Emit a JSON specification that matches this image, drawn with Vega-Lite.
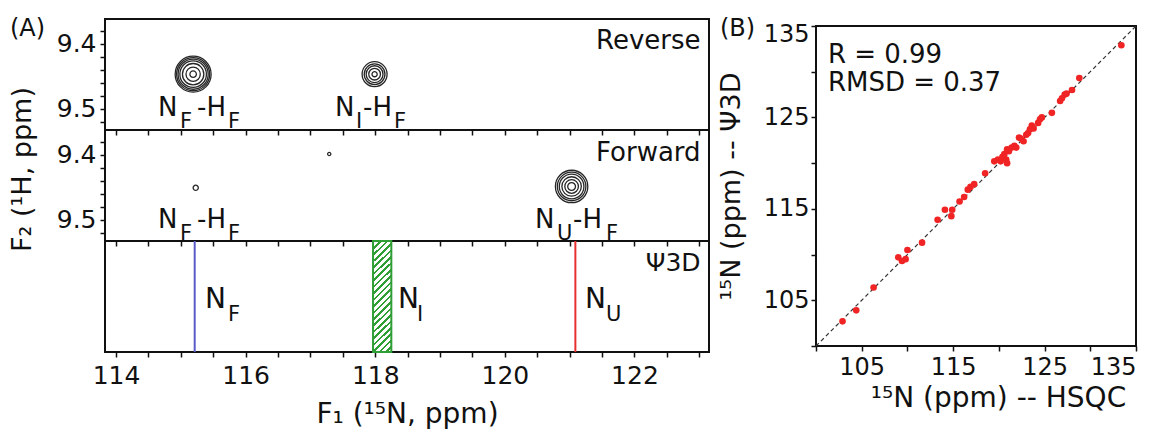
{
  "$schema": "https://vega.github.io/schema/vega-lite/v6.json",
  "background": "white",
  "padding": {"left": 7, "top": 16, "right": 4, "bottom": 0},
  "datasets": {
    "contours": [
      {"panel": "Reverse", "n15": 115.19, "h1": 9.447, "width": 0.555},
      {"panel": "Reverse", "n15": 115.19, "h1": 9.447, "width": 0.51},
      {"panel": "Reverse", "n15": 115.19, "h1": 9.447, "width": 0.465},
      {"panel": "Reverse", "n15": 115.19, "h1": 9.447, "width": 0.41},
      {"panel": "Reverse", "n15": 115.19, "h1": 9.447, "width": 0.33},
      {"panel": "Reverse", "n15": 115.19, "h1": 9.447, "width": 0.22},
      {"panel": "Reverse", "n15": 115.19, "h1": 9.447, "width": 0.1},
      {"panel": "Reverse", "n15": 117.99, "h1": 9.447, "width": 0.385},
      {"panel": "Reverse", "n15": 117.99, "h1": 9.447, "width": 0.32},
      {"panel": "Reverse", "n15": 117.99, "h1": 9.447, "width": 0.26},
      {"panel": "Reverse", "n15": 117.99, "h1": 9.447, "width": 0.18},
      {"panel": "Reverse", "n15": 117.99, "h1": 9.447, "width": 0.08},
      {"panel": "Forward", "n15": 115.23, "h1": 9.451, "width": 0.08},
      {"panel": "Forward", "n15": 117.29, "h1": 9.399, "width": 0.05},
      {"panel": "Forward", "n15": 121.03, "h1": 9.449, "width": 0.5},
      {"panel": "Forward", "n15": 121.03, "h1": 9.449, "width": 0.44},
      {"panel": "Forward", "n15": 121.03, "h1": 9.449, "width": 0.38},
      {"panel": "Forward", "n15": 121.03, "h1": 9.449, "width": 0.3},
      {"panel": "Forward", "n15": 121.03, "h1": 9.449, "width": 0.21},
      {"panel": "Forward", "n15": 121.03, "h1": 9.449, "width": 0.12}
    ],
    "labels": [
      {"panel": "Reverse", "kind": "main", "n15": 114.648, "h1": 9.512, "txt": "N"},
      {"panel": "Reverse", "kind": "sub", "n15": 114.988, "h1": 9.512, "txt": "F"},
      {"panel": "Reverse", "kind": "main", "n15": 115.25, "h1": 9.512, "txt": "-H"},
      {"panel": "Reverse", "kind": "sub", "n15": 115.728, "h1": 9.512, "txt": "F"},
      {"panel": "Reverse", "kind": "main", "n15": 117.38, "h1": 9.512, "txt": "N"},
      {"panel": "Reverse", "kind": "sub", "n15": 117.704, "h1": 9.512, "txt": "I"},
      {"panel": "Reverse", "kind": "main", "n15": 117.812, "h1": 9.512, "txt": "-H"},
      {"panel": "Reverse", "kind": "sub", "n15": 118.29, "h1": 9.512, "txt": "F"},
      {"panel": "Reverse", "kind": "tag", "n15": 123.02, "h1": 9.408, "txt": "Reverse"},
      {"panel": "Reverse", "kind": "panel", "n15": 112.364, "h1": 9.3882, "txt": "(A)"},
      {"panel": "Forward", "kind": "main", "n15": 114.648, "h1": 9.513, "txt": "N"},
      {"panel": "Forward", "kind": "sub", "n15": 114.988, "h1": 9.513, "txt": "F"},
      {"panel": "Forward", "kind": "main", "n15": 115.25, "h1": 9.513, "txt": "-H"},
      {"panel": "Forward", "kind": "sub", "n15": 115.728, "h1": 9.513, "txt": "F"},
      {"panel": "Forward", "kind": "main", "n15": 120.466, "h1": 9.513, "txt": "N"},
      {"panel": "Forward", "kind": "sub", "n15": 120.806, "h1": 9.513, "txt": "U"},
      {"panel": "Forward", "kind": "main", "n15": 121.052, "h1": 9.513, "txt": "-H"},
      {"panel": "Forward", "kind": "sub", "n15": 121.562, "h1": 9.513, "txt": "F"},
      {"panel": "Forward", "kind": "tag", "n15": 123.02, "h1": 9.41, "txt": "Forward"},
      {"panel": "Psi", "kind": "main", "n15": 115.373, "pos": 0.399, "txt": "N"},
      {"panel": "Psi", "kind": "sub", "n15": 115.728, "pos": 0.399, "txt": "F"},
      {"panel": "Psi", "kind": "main", "n15": 118.352, "pos": 0.399, "txt": "N"},
      {"panel": "Psi", "kind": "sub", "n15": 118.645, "pos": 0.399, "txt": "I"},
      {"panel": "Psi", "kind": "main", "n15": 121.238, "pos": 0.399, "txt": "N"},
      {"panel": "Psi", "kind": "sub", "n15": 121.562, "pos": 0.399, "txt": "U"},
      {"panel": "Psi", "kind": "tag", "n15": 123.02, "pos": 0.73, "txt": "Ψ3D"}
    ],
    "lines": [
      {"species": "F", "n15": 115.214},
      {"species": "U", "n15": 121.088}
    ],
    "bands": [
      {"species": "I", "n15": 117.966, "n15_hi": 118.248}
    ],
    "scatter": [
      {"hsqc": 102.9, "psi": 102.7}, {"hsqc": 104.4, "psi": 103.9}, {"hsqc": 106.3, "psi": 106.4},
      {"hsqc": 109.0, "psi": 109.7}, {"hsqc": 109.4, "psi": 109.3}, {"hsqc": 109.8, "psi": 109.5},
      {"hsqc": 110.0, "psi": 110.5}, {"hsqc": 111.6, "psi": 111.3}, {"hsqc": 113.3, "psi": 113.8},
      {"hsqc": 114.1, "psi": 114.9}, {"hsqc": 114.8, "psi": 114.2}, {"hsqc": 114.9, "psi": 114.9},
      {"hsqc": 115.7, "psi": 115.8}, {"hsqc": 116.2, "psi": 116.3}, {"hsqc": 116.6, "psi": 117.1},
      {"hsqc": 116.9, "psi": 117.4}, {"hsqc": 117.3, "psi": 117.7}, {"hsqc": 118.5, "psi": 118.9},
      {"hsqc": 119.5, "psi": 120.2}, {"hsqc": 119.9, "psi": 120.4}, {"hsqc": 120.2, "psi": 120.2},
      {"hsqc": 120.4, "psi": 120.7}, {"hsqc": 120.8, "psi": 120.4}, {"hsqc": 120.9, "psi": 120.0},
      {"hsqc": 120.6, "psi": 121.0}, {"hsqc": 120.9, "psi": 121.5}, {"hsqc": 121.4, "psi": 121.7},
      {"hsqc": 121.7, "psi": 121.9}, {"hsqc": 121.9, "psi": 121.7}, {"hsqc": 122.2, "psi": 122.8},
      {"hsqc": 122.7, "psi": 122.4}, {"hsqc": 123.0, "psi": 123.1}, {"hsqc": 123.2, "psi": 123.3},
      {"hsqc": 123.6, "psi": 124.1}, {"hsqc": 123.8, "psi": 123.8}, {"hsqc": 124.3, "psi": 124.4},
      {"hsqc": 124.5, "psi": 124.8}, {"hsqc": 124.7, "psi": 125.0}, {"hsqc": 125.8, "psi": 125.5},
      {"hsqc": 126.7, "psi": 126.8}, {"hsqc": 126.9, "psi": 127.1}, {"hsqc": 127.2, "psi": 127.5},
      {"hsqc": 127.4, "psi": 127.6}, {"hsqc": 128.0, "psi": 128.0}, {"hsqc": 128.8, "psi": 129.3},
      {"hsqc": 133.4, "psi": 132.9}, {"hsqc": 121.1, "psi": 121.3}, {"hsqc": 122.4, "psi": 122.7},
      {"hsqc": 123.4, "psi": 123.7}
    ],
    "diag": [{"hsqc": 100, "psi": 100, "hsqc2": 135, "psi2": 135}],
    "stats": [
      {"kind": "stat", "hsqc": 101.3, "psi": 130.95, "txt": "R = 0.99"},
      {"kind": "stat", "hsqc": 101.3, "psi": 127.9, "txt": "RMSD = 0.37"},
      {"kind": "panel", "hsqc": 89.5, "psi": 133.9, "txt": "(B)"}
    ]
  },
  "hconcat": [
    {
      "spacing": 0,
      "bounds": "flush",
      "vconcat": [
        {
          "width": 604,
          "height": 111,
          "encoding": {
            "x": {"field": "n15", "type": "quantitative",
              "scale": {"domain": [113.83, 123.15], "nice": false, "zero": false},
              "axis": {"values": [114,114.5,115,115.5,116,116.5,117,117.5,118,118.5,119,119.5,120,120.5,121,121.5,122,122.5,123], "labels": false, "title": null}},
            "y": {"field": "h1", "type": "quantitative",
              "scale": {"domain": [9.362, 9.533], "reverse": true, "nice": false, "zero": false},
              "axis": {"values": [9.38,9.4,9.42,9.44,9.46,9.48,9.5,9.52],
                "labelExpr": "datum.value === 9.4 || datum.value === 9.5 ? format(datum.value, '.1f') : ''",
                "title": "F₂ (¹H, ppm)", "titleY": 150, "titlePadding": 20, "titleFontSize": 27}}
          },
          "layer": [
            {"data": {"name": "contours"}, "transform": [{"filter": "datum.panel === 'Reverse'"}],
             "mark": {"type": "point", "shape": "circle", "filled": false, "stroke": "#262626", "strokeWidth": 1.3, "opacity": 1},
             "encoding": {"size": {"field": "width", "type": "quantitative", "scale": {"type": "pow", "exponent": 2, "domain": [0, 1], "range": [0, 4199]}, "legend": null}}},
            {"data": {"name": "labels"}, "transform": [{"filter": "datum.panel === 'Reverse' && datum.kind === 'main'"}],
             "mark": {"type": "text", "align": "left", "baseline": "alphabetic", "fontSize": 26, "color": "#111"},
             "encoding": {"text": {"field": "txt"}}},
            {"data": {"name": "labels"}, "transform": [{"filter": "datum.panel === 'Reverse' && datum.kind === 'sub'"}],
             "mark": {"type": "text", "align": "left", "baseline": "alphabetic", "fontSize": 21, "dy": 12, "color": "#111"},
             "encoding": {"text": {"field": "txt"}}},
            {"data": {"name": "labels"}, "transform": [{"filter": "datum.panel === 'Reverse' && datum.kind === 'tag'"}],
             "mark": {"type": "text", "align": "right", "baseline": "alphabetic", "fontSize": 26, "color": "#111"},
             "encoding": {"text": {"field": "txt"}}},
            {"data": {"name": "labels"}, "transform": [{"filter": "datum.panel === 'Reverse' && datum.kind === 'panel'"}],
             "mark": {"type": "text", "align": "left", "baseline": "alphabetic", "fontSize": 24, "color": "#111"},
             "encoding": {"text": {"field": "txt"}}}
          ]
        },
        {
          "width": 604,
          "height": 111,
          "encoding": {
            "x": {"field": "n15", "type": "quantitative",
              "scale": {"domain": [113.83, 123.15], "nice": false, "zero": false},
              "axis": {"values": [114,114.5,115,115.5,116,116.5,117,117.5,118,118.5,119,119.5,120,120.5,121,121.5,122,122.5,123], "labels": false, "title": null}},
            "y": {"field": "h1", "type": "quantitative",
              "scale": {"domain": [9.362, 9.533], "reverse": true, "nice": false, "zero": false},
              "axis": {"values": [9.38,9.4,9.42,9.44,9.46,9.48,9.5,9.52],
                "labelExpr": "datum.value === 9.4 || datum.value === 9.5 ? format(datum.value, '.1f') : ''",
                "title": null}}
          },
          "layer": [
            {"data": {"name": "contours"}, "transform": [{"filter": "datum.panel === 'Forward'"}],
             "mark": {"type": "point", "shape": "circle", "filled": false, "stroke": "#262626", "strokeWidth": 1.3, "opacity": 1},
             "encoding": {"size": {"field": "width", "type": "quantitative", "scale": {"type": "pow", "exponent": 2, "domain": [0, 1], "range": [0, 4199]}, "legend": null}}},
            {"data": {"name": "labels"}, "transform": [{"filter": "datum.panel === 'Forward' && datum.kind === 'main'"}],
             "mark": {"type": "text", "align": "left", "baseline": "alphabetic", "fontSize": 26, "color": "#111"},
             "encoding": {"text": {"field": "txt"}}},
            {"data": {"name": "labels"}, "transform": [{"filter": "datum.panel === 'Forward' && datum.kind === 'sub'"}],
             "mark": {"type": "text", "align": "left", "baseline": "alphabetic", "fontSize": 21, "dy": 12, "color": "#111"},
             "encoding": {"text": {"field": "txt"}}},
            {"data": {"name": "labels"}, "transform": [{"filter": "datum.panel === 'Forward' && datum.kind === 'tag'"}],
             "mark": {"type": "text", "align": "right", "baseline": "alphabetic", "fontSize": 26, "color": "#111"},
             "encoding": {"text": {"field": "txt"}}}
          ]
        },
        {
          "width": 604,
          "height": 111,
          "encoding": {
            "x": {"field": "n15", "type": "quantitative",
              "scale": {"domain": [113.83, 123.15], "nice": false, "zero": false},
              "axis": {"values": [114,114.5,115,115.5,116,116.5,117,117.5,118,118.5,119,119.5,120,120.5,121,121.5,122,122.5,123],
                "labelExpr": "datum.value % 2 === 0 ? format(datum.value, 'd') : ''",
                "labelPadding": 6, "title": "F₁ (¹⁵N, ppm)", "titlePadding": 12, "titleFontSize": 28}}
          },
          "layer": [
            {"data": {"name": "bands"},
             "mark": {"type": "rect", "stroke": "#2e9e35", "strokeWidth": 2,
               "fill": {"gradient": "linear", "x1": 0, "y1": 0, "x2": 0.1835, "y2": 1.1325, "stops": [
                 {"offset": 0, "color": "#2e9e35"}, {"offset": 0.02, "color": "#2e9e35"}, {"offset": 0.02, "color": "#ffffff"}, {"offset": 0.05, "color": "#ffffff"},
                 {"offset": 0.05, "color": "#2e9e35"}, {"offset": 0.07, "color": "#2e9e35"}, {"offset": 0.07, "color": "#ffffff"}, {"offset": 0.1, "color": "#ffffff"},
                 {"offset": 0.1, "color": "#2e9e35"}, {"offset": 0.12, "color": "#2e9e35"}, {"offset": 0.12, "color": "#ffffff"}, {"offset": 0.15, "color": "#ffffff"},
                 {"offset": 0.15, "color": "#2e9e35"}, {"offset": 0.17, "color": "#2e9e35"}, {"offset": 0.17, "color": "#ffffff"}, {"offset": 0.2, "color": "#ffffff"},
                 {"offset": 0.2, "color": "#2e9e35"}, {"offset": 0.22, "color": "#2e9e35"}, {"offset": 0.22, "color": "#ffffff"}, {"offset": 0.25, "color": "#ffffff"},
                 {"offset": 0.25, "color": "#2e9e35"}, {"offset": 0.27, "color": "#2e9e35"}, {"offset": 0.27, "color": "#ffffff"}, {"offset": 0.3, "color": "#ffffff"},
                 {"offset": 0.3, "color": "#2e9e35"}, {"offset": 0.32, "color": "#2e9e35"}, {"offset": 0.32, "color": "#ffffff"}, {"offset": 0.35, "color": "#ffffff"},
                 {"offset": 0.35, "color": "#2e9e35"}, {"offset": 0.37, "color": "#2e9e35"}, {"offset": 0.37, "color": "#ffffff"}, {"offset": 0.4, "color": "#ffffff"},
                 {"offset": 0.4, "color": "#2e9e35"}, {"offset": 0.42, "color": "#2e9e35"}, {"offset": 0.42, "color": "#ffffff"}, {"offset": 0.45, "color": "#ffffff"},
                 {"offset": 0.45, "color": "#2e9e35"}, {"offset": 0.47, "color": "#2e9e35"}, {"offset": 0.47, "color": "#ffffff"}, {"offset": 0.5, "color": "#ffffff"},
                 {"offset": 0.5, "color": "#2e9e35"}, {"offset": 0.52, "color": "#2e9e35"}, {"offset": 0.52, "color": "#ffffff"}, {"offset": 0.55, "color": "#ffffff"},
                 {"offset": 0.55, "color": "#2e9e35"}, {"offset": 0.57, "color": "#2e9e35"}, {"offset": 0.57, "color": "#ffffff"}, {"offset": 0.6, "color": "#ffffff"},
                 {"offset": 0.6, "color": "#2e9e35"}, {"offset": 0.62, "color": "#2e9e35"}, {"offset": 0.62, "color": "#ffffff"}, {"offset": 0.65, "color": "#ffffff"},
                 {"offset": 0.65, "color": "#2e9e35"}, {"offset": 0.67, "color": "#2e9e35"}, {"offset": 0.67, "color": "#ffffff"}, {"offset": 0.7, "color": "#ffffff"},
                 {"offset": 0.7, "color": "#2e9e35"}, {"offset": 0.72, "color": "#2e9e35"}, {"offset": 0.72, "color": "#ffffff"}, {"offset": 0.75, "color": "#ffffff"},
                 {"offset": 0.75, "color": "#2e9e35"}, {"offset": 0.77, "color": "#2e9e35"}, {"offset": 0.77, "color": "#ffffff"}, {"offset": 0.8, "color": "#ffffff"},
                 {"offset": 0.8, "color": "#2e9e35"}, {"offset": 0.82, "color": "#2e9e35"}, {"offset": 0.82, "color": "#ffffff"}, {"offset": 0.85, "color": "#ffffff"},
                 {"offset": 0.85, "color": "#2e9e35"}, {"offset": 0.87, "color": "#2e9e35"}, {"offset": 0.87, "color": "#ffffff"}, {"offset": 0.9, "color": "#ffffff"},
                 {"offset": 0.9, "color": "#2e9e35"}, {"offset": 0.92, "color": "#2e9e35"}, {"offset": 0.92, "color": "#ffffff"}, {"offset": 0.95, "color": "#ffffff"},
                 {"offset": 0.95, "color": "#2e9e35"}, {"offset": 0.97, "color": "#2e9e35"}, {"offset": 0.97, "color": "#ffffff"}, {"offset": 1, "color": "#ffffff"}
               ]}},
             "encoding": {"x2": {"field": "n15_hi"}}},
            {"data": {"name": "lines"},
             "mark": {"type": "rule", "strokeWidth": 2},
             "encoding": {"color": {"field": "species", "type": "nominal", "scale": {"domain": ["F", "I", "U"], "range": ["#5a5ac8", "#2e9e35", "#e8312f"]}, "legend": null}}},
            {"data": {"name": "labels"}, "transform": [{"filter": "datum.panel === 'Psi' && datum.kind === 'main'"}],
             "mark": {"type": "text", "align": "left", "baseline": "alphabetic", "fontSize": 28, "color": "#111"},
             "encoding": {"y": {"field": "pos", "type": "quantitative", "scale": {"domain": [0, 1], "nice": false}, "axis": null}, "text": {"field": "txt"}}},
            {"data": {"name": "labels"}, "transform": [{"filter": "datum.panel === 'Psi' && datum.kind === 'sub'"}],
             "mark": {"type": "text", "align": "left", "baseline": "alphabetic", "fontSize": 21, "dy": 13, "color": "#111"},
             "encoding": {"y": {"field": "pos", "type": "quantitative", "scale": {"domain": [0, 1], "nice": false}, "axis": null}, "text": {"field": "txt"}}},
            {"data": {"name": "labels"}, "transform": [{"filter": "datum.panel === 'Psi' && datum.kind === 'tag'"}],
             "mark": {"type": "text", "align": "right", "baseline": "alphabetic", "fontSize": 25, "color": "#111"},
             "encoding": {"y": {"field": "pos", "type": "quantitative", "scale": {"domain": [0, 1], "nice": false}, "axis": null}, "text": {"field": "txt"}}}
          ]
        }
      ]
    },
    {
      "spacing": 6,
      "bounds": "flush",
      "vconcat": [
        {
          "width": 320,
          "height": 1,
          "view": {"stroke": null},
          "data": {"values": []},
          "mark": {"type": "point"}
        },
        {
          "width": 320,
          "height": 320,
          "encoding": {
            "x": {"field": "hsqc", "type": "quantitative",
              "scale": {"domain": [100, 135], "nice": false, "zero": false},
              "axis": {"values": [100,105,110,115,120,125,130,135],
                "labelExpr": "datum.value % 10 === 5 ? format(datum.value, 'd') : ''",
                "title": "¹⁵N (ppm) -- HSQC", "labelFontSize": 24, "titleFontSize": 28, "titlePadding": 5, "titleX": 182}},
            "y": {"field": "psi", "type": "quantitative",
              "scale": {"domain": [100, 135], "nice": false, "zero": false},
              "axis": {"values": [100,105,110,115,120,125,130,135],
                "labelExpr": "datum.value % 10 === 5 ? format(datum.value, 'd') : ''",
                "labelFlush": true, "labelFlushOffset": 4,
                "title": "¹⁵N (ppm) -- Ψ3D", "labelFontSize": 24, "titleFontSize": 27, "labelPadding": 2, "titlePadding": 18}}
          },
          "layer": [
            {"data": {"name": "diag"},
             "mark": {"type": "rule", "strokeDash": [4, 3], "color": "#333333", "strokeWidth": 1.2},
             "encoding": {"x2": {"field": "hsqc2"}, "y2": {"field": "psi2"}}},
            {"data": {"name": "scatter"},
             "mark": {"type": "circle", "size": 44, "color": "#f02424", "opacity": 1}},
            {"data": {"name": "stats"}, "transform": [{"filter": "datum.kind === 'stat'"}],
             "mark": {"type": "text", "align": "left", "baseline": "alphabetic", "fontSize": 26, "color": "#111"},
             "encoding": {"text": {"field": "txt"}}},
            {"data": {"name": "stats"}, "transform": [{"filter": "datum.kind === 'panel'"}],
             "mark": {"type": "text", "align": "left", "baseline": "alphabetic", "fontSize": 24, "color": "#111"},
             "encoding": {"text": {"field": "txt"}}}
          ]
        }
      ]
    }
  ],
  "spacing": 6,
  "config": {
    "font": "DejaVu Sans",
    "view": {"stroke": "#111111", "strokeWidth": 2},
    "axis": {"domain": false, "grid": false, "tickColor": "#111111", "tickWidth": 1.5, "tickSize": 5,
      "labelColor": "#111111", "titleColor": "#111111", "labelFontSize": 25, "titleFontSize": 25,
      "titleFontWeight": "normal", "labelPadding": 4, "labelOverlap": false}
  }
}
